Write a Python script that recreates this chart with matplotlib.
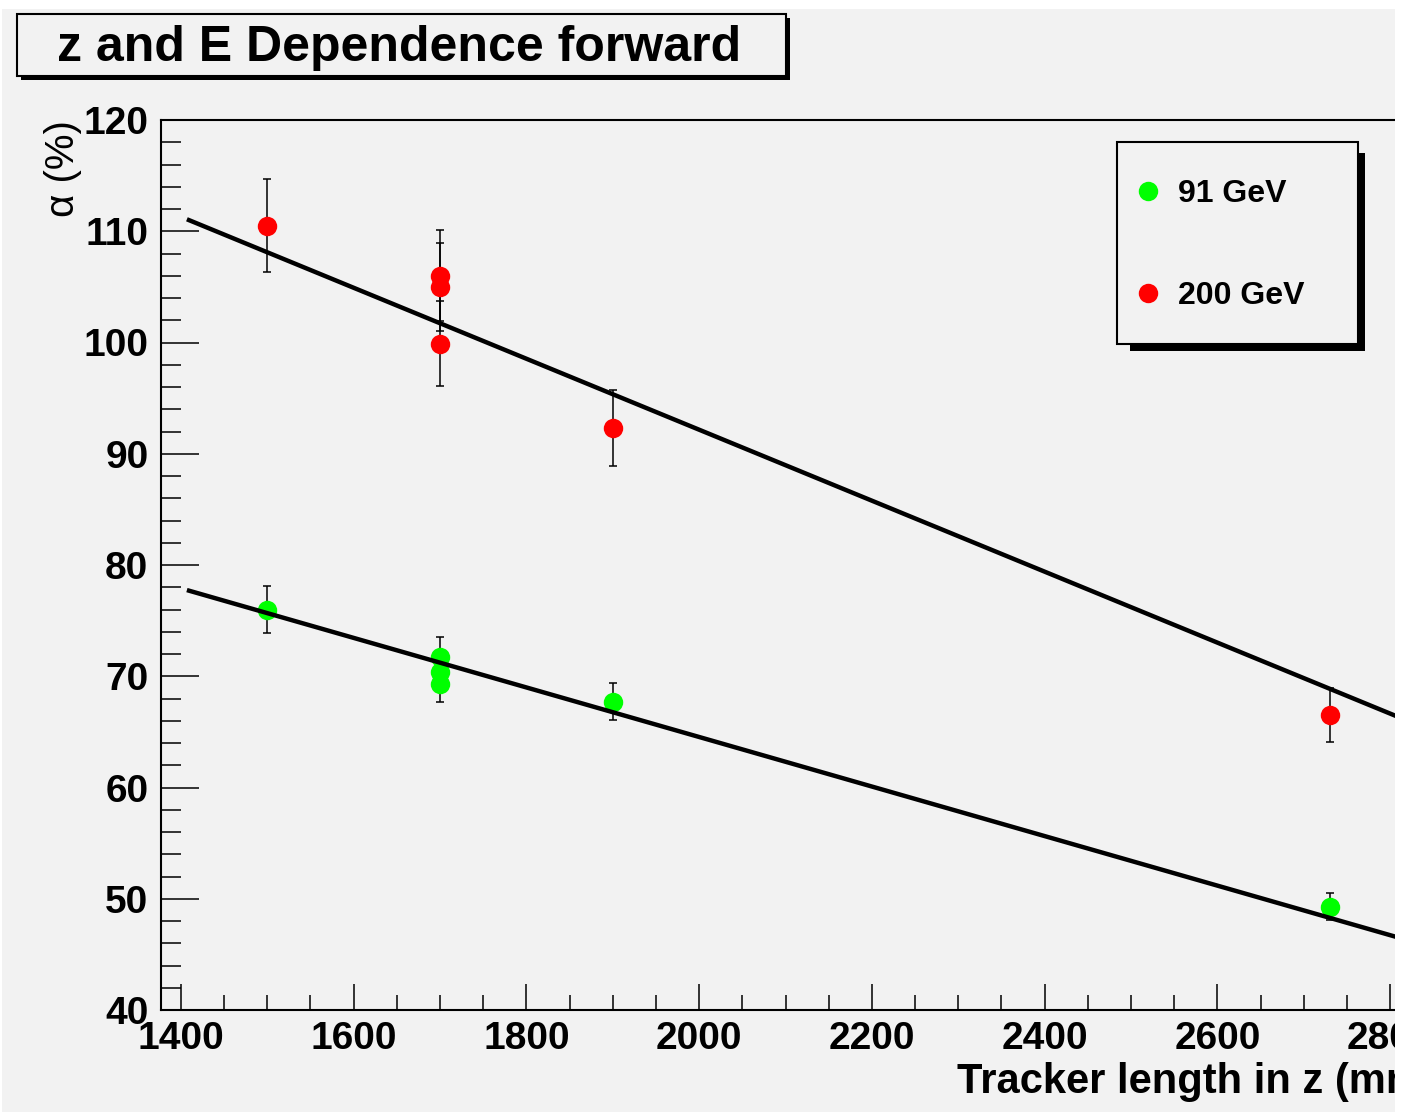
import matplotlib
matplotlib.use("Agg")
import matplotlib.pyplot as plt
from matplotlib.patches import Rectangle
from matplotlib.ticker import MultipleLocator
import numpy as np

# ---------------- data ----------------
z_91 = [1500, 1700, 1700, 1700, 1900, 2730]
alpha_91 = [76.0, 71.7, 70.4, 69.3, 67.7, 49.3]
err_91 = [2.1, 1.8, 1.5, 1.6, 1.65, 1.25]

z_200 = [1500, 1700, 1700, 1700, 1900, 2730]
alpha_200 = [110.5, 106.0, 105.0, 99.9, 92.3, 66.5]
err_200 = [4.2, 4.1, 3.95, 3.8, 3.4, 2.4]

# linear fits: alpha = p0 + p1 * z
fit_91 = (109.08, -0.02227)
fit_200 = (155.96, -0.0319)
fit_range = (1407, 2853)

xlim = (1377, 2853)
ylim = (40, 120)

title_text = "z and E Dependence forward"
xlabel_text = "Tracker length in z (mm)"
ylabel_text = "\u03b1 (%)"
series_labels = ["91 GeV", "200 GeV"]
series_colors = ["#00ff00", "#ff0000"]

# ---------------- figure ----------------
W, H = 1402, 1115
DPI = 100
BG = "#f2f2f2"
FONT = "Liberation Sans"

fig = plt.figure(figsize=(W / DPI, H / DPI), dpi=DPI, facecolor="white")


def fx(px):
    return px / W


def fy(py):
    return 1 - py / H


# gray canvas
fig.patches.append(Rectangle((fx(2), fy(1112)), fx(1395) - fx(2), fy(9) - fy(1112),
                             transform=fig.transFigure, facecolor=BG, edgecolor="none", zorder=-10))

ax_l, ax_r, ax_t, ax_b = 161, 1436, 120, 1010
ax = fig.add_axes([fx(ax_l), fy(ax_b), fx(ax_r) - fx(ax_l), fy(ax_t) - fy(ax_b)])
ax.set_facecolor(BG)
ax.set_xlim(*xlim)
ax.set_ylim(*ylim)

# data with error bars
for z, a, e, c, lab in [(z_91, alpha_91, err_91, series_colors[0], series_labels[0]),
                        (z_200, alpha_200, err_200, series_colors[1], series_labels[1])]:
    ax.errorbar(z, a, yerr=e, fmt="none", ecolor="black", elinewidth=1.1,
                capsize=3, capthick=1.1, zorder=3)
    ax.plot(z, a, linestyle="none", marker="o", markersize=14, color=c,
            markeredgewidth=0, label=lab, zorder=4)

# fit lines
zz = np.array(fit_range, dtype=float)
for p in (fit_91, fit_200):
    ax.plot(zz, p[0] + p[1] * zz, color="black", linewidth=3.2, zorder=5,
            solid_capstyle="butt")

# axes styling
for s in ["left", "bottom", "top"]:
    ax.spines[s].set_linewidth(1.5)
ax.spines["right"].set_visible(False)

ax.xaxis.set_major_locator(MultipleLocator(200))
ax.xaxis.set_minor_locator(MultipleLocator(50))
ax.yaxis.set_major_locator(MultipleLocator(10))
ax.yaxis.set_minor_locator(MultipleLocator(2))

ax.tick_params(axis="x", which="major", direction="in", length=18.7, width=1.1,
               pad=8, top=False)
ax.tick_params(axis="x", which="minor", direction="in", length=10.8, width=1.1, top=False)
ax.tick_params(axis="y", which="major", direction="in", length=27.4, width=1.1,
               pad=9, right=False)
ax.tick_params(axis="y", which="minor", direction="in", length=14.4, width=1.1, right=False)

for lbl in ax.get_xticklabels() + ax.get_yticklabels():
    lbl.set_fontfamily(FONT)
    lbl.set_fontweight("bold")
    lbl.set_fontsize(28)

# axis labels
ax.set_xlabel(xlabel_text, fontfamily=FONT, fontweight="bold", fontsize=30,
              ha="left", va="bottom")
ax.xaxis.set_label_coords((957 - ax_l) / (ax_r - ax_l), -(1102 - ax_b) / (ax_b - ax_t))

ax.set_ylabel(ylabel_text, fontfamily=FONT, fontsize=29, ha="right", va="center")
ax.yaxis.set_label_coords(-(ax_l - 63) / (ax_r - ax_l), 1.0)

# title box with shadow
fig.patches.append(Rectangle((fx(21), fy(80)), fx(790) - fx(21), fy(18) - fy(80),
                             transform=fig.transFigure, facecolor="black",
                             edgecolor="none", zorder=1))
fig.patches.append(Rectangle((fx(17), fy(76)), fx(786) - fx(17), fy(14) - fy(76),
                             transform=fig.transFigure, facecolor=BG,
                             edgecolor="black", linewidth=1.5, zorder=2))
fig.text(fx(399), fy(48), title_text, fontfamily=FONT, fontweight="bold",
         fontsize=36, ha="center", va="center", zorder=3)

# legend box with shadow
fig.patches.append(Rectangle((fx(1130), fy(351)), fx(1365) - fx(1130), fy(153) - fy(351),
                             transform=fig.transFigure, facecolor="black",
                             edgecolor="none", zorder=1))
fig.patches.append(Rectangle((fx(1117), fy(344)), fx(1358) - fx(1117), fy(142) - fy(344),
                             transform=fig.transFigure, facecolor=BG,
                             edgecolor="black", linewidth=1.5, zorder=2))
handles, labels = ax.get_legend_handles_labels()
leg = fig.legend(handles, labels, loc="upper left",
                 bbox_to_anchor=(fx(1135), fy(179)), bbox_transform=fig.transFigure,
                 frameon=False, borderpad=0, borderaxespad=0, handlelength=0.8,
                 handletextpad=0.55, labelspacing=2.25, numpoints=1,
                 prop={"family": FONT, "weight": "bold", "size": 23})
leg.set_zorder(5)

# image border strips (cropped edges of the original canvas)
for (x0, y0, x1, y1) in [(1395, 0, W, H), (0, 1112, W, H), (0, 0, W, 9)]:
    fig.patches.append(Rectangle((fx(x0), fy(y1)), fx(x1) - fx(x0), fy(y0) - fy(y1),
                                 transform=fig.transFigure, facecolor="white",
                                 edgecolor="none", zorder=100))

fig.savefig("out.png", dpi=DPI, facecolor="white")
